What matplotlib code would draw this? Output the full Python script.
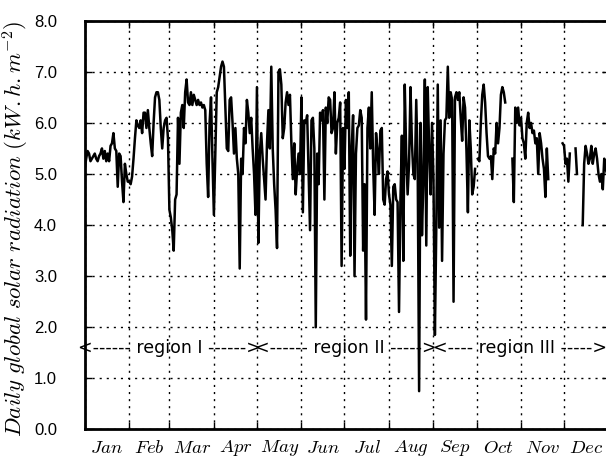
import numpy as np
import matplotlib
matplotlib.use("Agg")
import matplotlib.pyplot as plt
from matplotlib.ticker import FixedLocator, FixedFormatter, FormatStrFormatter

plt.rcParams['mathtext.fontset'] = 'cm'
nan = np.nan

# daily global solar radiation, kWh/m2, one list per month (nan = missing day)
jan = [5.1, 5.3, 5.45, 5.4, 5.25, 5.3, 5.35, 5.4, 5.3, 5.25, 5.35, 5.4, 5.5, 5.3, 5.45, 5.25,
       5.4, 5.25, 5.55, 5.6, 5.8, 5.5, 5.45, 4.75, 5.4, 5.35, 4.85, 4.45, 5.2, 5.0, 4.85]
feb = [4.85, 4.8, 4.95, 5.3, 5.7, 6.05, 5.95, 5.9, 6.05, 5.8, 6.2, 6.2, 5.9, 6.25, 5.9, 5.6,
       5.35, 6.0, 6.5, 6.6, 6.6, 6.45, 5.9, 5.5, 5.9, 6.05, 6.1, 5.7]
mar = [4.3, 4.15, 3.9, 3.5, 4.5, 4.6, 6.1, 5.2, 6.2, 6.35, 5.9, 6.6, 6.85, 6.4, 6.35, 6.6,
       6.35, 6.55, 6.45, 6.35, 6.45, 6.35, 6.4, 6.3, 6.35, 6.25, 5.2, 4.55, 6.0, 6.5, 5.3]
apr = [4.2, 5.4, 6.6, 6.7, 6.9, 7.1, 7.2, 7.1, 6.3, 5.5, 5.45, 6.45, 6.5, 6.0, 5.4, 5.9,
       5.3, 5.0, 3.15, 5.3, 5.0, 5.9, 5.6, 6.45, 6.2, 5.8, 6.1, 5.5, 5.0, 4.2]
may = [6.7, 3.65, 5.4, 5.8, 5.3, 4.9, 4.5, 5.6, 6.25, 5.5, 7.1, 5.5, 4.8, 4.3, 3.55, 7.0,
       7.05, 6.75, 5.7, 5.9, 6.4, 6.6, 6.35, 6.55, 5.6, 4.9, 5.6, 4.6, 5.1, 5.4, 5.0]
jun = [6.5, 4.25, 6.05, 6.0, 6.15, 5.0, 3.9, 6.05, 6.1, 5.5, 2.0, 5.4, 4.8, 6.2, 6.05, 6.25,
       4.5, 6.3, 6.0, 6.5, 6.45, 5.8, 5.9, 6.6, 5.4, 6.0, 6.1, 6.4, 3.2, 5.9]
jul = [5.1, 6.45, 5.9, 6.6, 3.4, 5.5, 6.15, 3.0, 5.4, 5.9, 5.95, 6.25, 6.1, 3.5, 4.8, 2.15,
       5.9, 6.3, 5.5, 6.6, 5.15, 4.2, 5.8, 5.45, 5.0, 5.85, 5.9, 4.5, 4.4, 4.9, 5.05]
aug = [4.6, 4.4, 3.2, 4.75, 4.8, 4.5, 4.45, 2.3, 4.5, 5.75, 3.3, 6.75, 5.4, 4.6, 5.2, 6.7,
       5.6, 5.0, 4.9, 6.45, 5.2, 0.75, 6.0, 3.8, 4.9, 6.85, 3.6, 6.7, 5.5, 4.6, 6.0]
sep = [4.9, 1.85, 4.0, 6.75, 3.95, 6.05, 3.3, 5.4, 6.05, 6.1, 7.1, 6.1, 6.6, 6.45, 2.5, 6.5,
       6.6, 6.45, 6.6, 6.1, 5.65, 6.5, 6.3, 5.45, 4.25, 6.05, 5.5, 4.6, 4.75, 5.1]
oct_ = [nan, 5.3, 5.25, 6.0, 6.55, 6.75, 6.4, 5.8, 5.35, 5.3, 5.35, 4.9, 5.5, 5.4, 6.0, 5.6,
        5.9, 6.55, 6.7, 6.6, 6.4, nan, nan, nan, nan, 5.3, 4.45, 6.3, 6.0, 6.3, 5.95]
nov = [6.1, 5.7, 5.6, 5.3, 6.0, 6.2, 5.9, 6.0, 5.8, 5.85, 5.6, 5.7, 5.0, 5.8, 5.6, 5.3,
       5.1, 4.55, 5.5, 4.9, nan, nan, nan, nan, nan, nan, nan, nan, nan, 5.6]
dec = [5.55, 5.2, 5.3, 4.85, 5.4, nan, nan, nan, 5.5, 5.0, nan, nan, nan, 4.0, 5.2, 5.55,
       5.4, 5.2, 5.3, 5.55, 5.2, 5.4, 5.5, 5.3, 5.0, 4.85, 5.0, 4.7, 5.3, 5.1, 5.0]

months = ['Jan', 'Feb', 'Mar', 'Apr', 'May', 'Jun', 'Jul', 'Aug', 'Sep', 'Oct', 'Nov', 'Dec']
month_start = [0, 31, 59, 90, 120, 151, 181, 212, 243, 273, 304, 334, 365]

regions = ['<------ region I ------>', '<------ region II ----->', '<---- region III ----->']
region_mid = [59, 182, 303]

radiation = np.array(jan + feb + mar + apr + may + jun + jul + aug + sep + oct_ + nov + dec)
days = np.arange(len(radiation))

fig = plt.figure(figsize=(6.06, 4.59), dpi=100)
ax = fig.add_axes([0.1398, 0.0643, 0.8644, 0.8906])

ax.plot(days, radiation, color='k', lw=1.8)

ax.set_xlim(0, 365)
ax.set_ylim(0, 8)

# month boundaries carry the grid, month names sit mid-month
ax.xaxis.set_major_locator(FixedLocator(month_start))
ax.xaxis.set_major_formatter(FixedFormatter([''] * len(month_start)))
mids = [(month_start[i] + month_start[i + 1]) / 2 for i in range(12)]
ax.xaxis.set_minor_locator(FixedLocator(mids))
ax.xaxis.set_minor_formatter(FixedFormatter(['$' + m + '$' for m in months]))
ax.tick_params(axis='x', which='minor', length=0, pad=6, labelsize=13.5)

ax.set_yticks(np.arange(0, 8.1, 1.0))
ax.yaxis.set_major_formatter(FormatStrFormatter('%.1f'))
ax.tick_params(axis='both', which='major', direction='in', length=5, width=1,
               top=True, right=True)
ax.tick_params(axis='y', labelsize=12, pad=20)
for lab in ax.get_yticklabels():
    lab.set_fontfamily(['Liberation Sans Narrow', 'Liberation Sans'])

ax.grid(True, which='major', color='k', linestyle=(0, (1.5, 3.6)), lw=1.0)
for s in ax.spines.values():
    s.set_linewidth(2)

fig.text(0.027, 0.502, r'$Daily\ global\ solar\ radiation\ (kW.h.m^{-2})$',
         rotation=90, ha='center', va='center', fontsize=16.5)

for txt, xm in zip(regions, region_mid):
    ax.text(xm, 1.6, txt, ha='center', va='center', fontsize=12.5)

fig.savefig('out.png', dpi=100)
